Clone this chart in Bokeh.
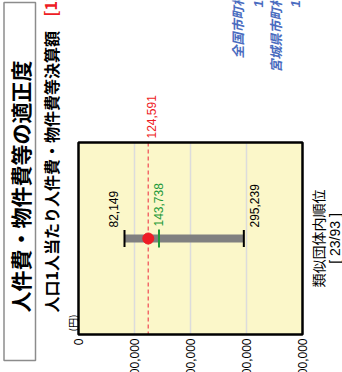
import math
from bokeh.plotting import figure
from bokeh.models import Range1d
from bokeh.core.properties import value
from bokeh.embed import file_html
from bokeh.resources import INLINE

# ---------------- data ----------------
title_text = "人件費・物件費等の適正度"
subtitle_text = "人口1人当たり人件費・物件費等決算額"
subtitle_value = "[124,591円]"
unit_label = "(円)"
tick_values = [0, 100000, 200000, 300000, 400000]
tick_labels = ["0", "100,000", "200,000", "300,000", "400,000"]
grid_values = [100000, 200000, 300000]
group_min = 82149
group_max = 295239
group_avg = 143738
own_value = 124591
rank_label = "類似団体内順位"
rank_text = "[ 23/93 ]"
legend_names = ["全国市町村平均", "宮城県市町村平均"]
legend_values = ["123,004", "131,527"]

# ---------------- layout ----------------
W, H = 342, 372
AX0, AX1 = 78, 302          # frame left / right (px)
FT, FB = 142, 334           # frame top / bottom (px)
ROW = 238                   # row of the range bar (px)
VMAX = tick_values[-1]
scale = (AX1 - AX0) / VMAX
ROT = math.pi / 2

JP = value("Noto Sans CJK JP")
LAT = value("Liberation Sans")

p = figure(width=W, height=H, output_backend="svg", toolbar_location=None,
           x_range=Range1d(0, W), y_range=Range1d(H, 0),
           x_axis_type=None, y_axis_type=None, min_border=0,
           outline_line_color=None, background_fill_color="white",
           border_fill_color="white")
p.extra_x_ranges = {"val": Range1d(-AX0 / scale, (W - AX0) / scale)}

# title box
p.quad(left=[3.5], right=[35], top=[2], bottom=[360], fill_color="white",
       line_color="#8c8c8c", line_width=1.5)
p.text(x=[19], y=[186], text=[title_text], angle=ROT, text_align="center",
       text_baseline="middle", text_font=JP, text_font_style="bold",
       text_font_size="21px", text_color="black")

# subtitle
p.text(x=[50], y=[312], text=[subtitle_text], angle=ROT, text_align="left",
       text_baseline="middle", text_font=JP, text_font_style="bold",
       text_font_size="16px", text_color="black")
p.text(x=[49], y=[16], text=[subtitle_value], angle=ROT, text_align="left",
       text_baseline="middle", text_font=JP, text_font_style="bold",
       text_font_size="16px", text_color="#ee1c25")

# plot frame background
p.quad(left=[0], right=[VMAX], top=[FT], bottom=[FB], fill_color="#fbf7c9",
       line_color=None, x_range_name="val")
p.segment(x0=grid_values, x1=grid_values, y0=[FT] * len(grid_values),
          y1=[FB] * len(grid_values), line_color="#dcdcdc", line_width=1.5,
          x_range_name="val")
p.segment(x0=[own_value], x1=[own_value], y0=[FT], y1=[FB],
          line_color="#f26a6a", line_width=1.5, line_dash="4 3",
          x_range_name="val")
p.quad(left=[0], right=[VMAX], top=[FT], bottom=[FB], fill_color=None,
       line_color="black", line_width=2.5, x_range_name="val")

# tick labels
p.text(x=tick_values, y=[338] * len(tick_values), text=tick_labels, angle=ROT,
       text_align="right", text_baseline="middle", text_font=LAT,
       text_font_size="12px", text_color="black", x_range_name="val")
p.text(x=[72], y=[331], text=[unit_label], angle=ROT, text_align="left",
       text_baseline="middle", text_font=JP, text_font_size="10px",
       text_color="black")

# range bar
p.segment(x0=[group_min], x1=[group_max], y0=[ROW], y1=[ROW],
          line_color="#808080", line_width=8, line_cap="butt",
          x_range_name="val")
p.segment(x0=[group_min, group_max], x1=[group_min, group_max],
          y0=[ROW - 8.5] * 2, y1=[ROW + 8.5] * 2, line_color="black",
          line_width=2, x_range_name="val")
p.segment(x0=[group_avg], x1=[group_avg], y0=[ROW - 9], y1=[ROW + 9],
          line_color="#1f9a3a", line_width=2, x_range_name="val")
p.scatter(x=[own_value], y=[ROW], size=11, fill_color="#ee1c25",
          line_color="#ee1c25", x_range_name="val")

# value labels
p.text(x=[group_min], y=[227], text=[f"{group_min:,}"], angle=ROT,
       x_offset=-11, text_align="left", text_baseline="middle",
       text_font=LAT, text_font_size="12px", text_color="black",
       x_range_name="val")
p.text(x=[group_max], y=[227], text=[f"{group_max:,}"], angle=ROT,
       x_offset=11, text_align="left", text_baseline="middle",
       text_font=LAT, text_font_size="12px", text_color="black",
       x_range_name="val")
p.text(x=[group_avg], y=[226], text=[f"{group_avg:,}"], angle=ROT,
       text_align="left", text_baseline="middle", text_font=LAT,
       text_font_size="12px", text_color="#1f9a3a", x_range_name="val")
p.text(x=[own_value], y=[138], text=[f"{own_value:,}"], angle=ROT,
       x_offset=3, text_align="left", text_baseline="middle",
       text_font=LAT, text_font_size="12px", text_color="#ee1c25",
       x_range_name="val")

# rank
p.text(x=[317], y=[238], text=[rank_label], angle=ROT, text_align="center",
       text_baseline="middle", text_font=JP, text_font_size="14px",
       text_color="black")
p.text(x=[334], y=[238], text=[rank_text], angle=ROT, text_align="center",
       text_baseline="middle", text_font=LAT, text_font_size="14px",
       text_color="black")

# legend texts (blue)
p.text(x=[237, 275], y=[58, 72], text=legend_names, angle=ROT,
       text_align="left", text_baseline="middle", text_font=JP,
       text_font_style="bold italic", text_font_size="13px",
       text_color="#4a6cc0")
p.text(x=[258, 295], y=[7, 7], text=legend_values, angle=ROT,
       text_align="left", text_baseline="middle", text_font=LAT,
       text_font_style="bold italic", text_font_size="13px",
       text_color="#4a6cc0")

open("out.html", "w").write(file_html(p, INLINE))
